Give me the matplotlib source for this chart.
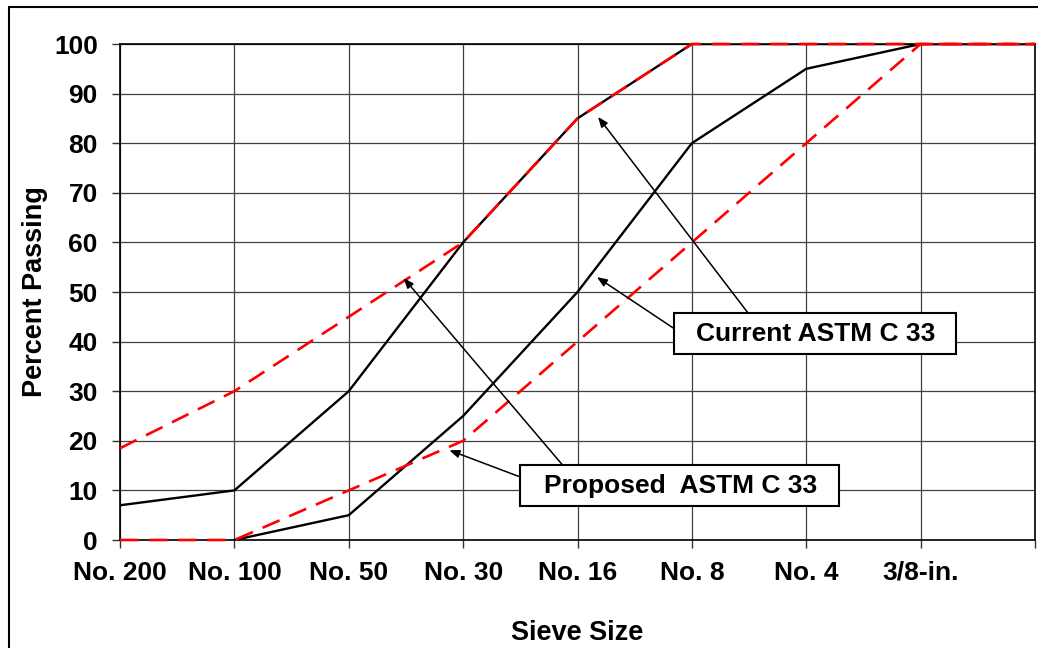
import matplotlib
matplotlib.use("Agg")
import matplotlib.pyplot as plt
from matplotlib.patches import Rectangle

plt.rcParams['font.family'] = ['Liberation Sans', 'DejaVu Sans']
plt.rcParams['font.weight'] = 'bold'

# Sieve sizes (one extra grid column past 3/8-in.)
sieves = ["No. 200", "No. 100", "No. 50", "No. 30", "No. 16", "No. 8", "No. 4", "3/8-in.", ""]
pos = list(range(len(sieves)))

# Current ASTM C 33 grading limits (percent passing)
current_upper = [7, 10, 30, 60, 85, 100, 100, 100, 100]
current_lower = [0, 0, 5, 25, 50, 80, 95, 100, 100]

# Proposed ASTM C 33 grading limits (percent passing)
proposed_upper = [18.5, 30, 45, 60, 85, 100, 100, 100, 100]
proposed_lower = [0, 0, 10, 20, 40, 60, 80, 100, 100]

fig = plt.figure(figsize=(10.38, 6.48), dpi=100)
ax = fig.add_axes([120 / 1038, 108 / 648, 915 / 1038, 496 / 648])

ax.set_xlim(0, 8)
ax.set_ylim(0, 100)
ax.set_xticks(pos)
ax.set_xticklabels(sieves)
ax.set_yticks(range(0, 101, 10))
ax.grid(True, color='#404040', linewidth=0.9)
ax.set_axisbelow(True)

for s in ax.spines.values():
    s.set_linewidth(1.2)
    s.set_color('black')

ax.tick_params(axis='both', labelsize=19, length=6, width=1.0, color='#333333')
ax.tick_params(axis='x', pad=9)
ax.tick_params(axis='y', pad=10)
for lbl in ax.get_xticklabels() + ax.get_yticklabels():
    lbl.set_fontweight('bold')

# Current limits: solid black
ax.plot(pos[1:], current_lower[1:], color='black', lw=1.7, zorder=3)
ax.plot(pos, current_upper, color='black', lw=1.7, zorder=3)

# Proposed limits: dashed red
for series in (proposed_upper, proposed_lower):
    ax.plot(pos, series, color='#ff0000', lw=1.9, dashes=(7, 4), zorder=4, clip_on=False)

ax.set_xlabel("Sieve Size", fontsize=19.5, fontweight='bold', labelpad=25)
ax.set_ylabel("Percent Passing", fontsize=19.5, fontweight='bold', labelpad=4.5)

arrow = dict(arrowstyle='-|>,head_length=0.6,head_width=0.24', color='black',
             lw=1.1, shrinkA=0, shrinkB=0)

# Callout boxes
ax.add_patch(Rectangle((4.844, 37.5), 2.465, 8.27, fc='white', ec='black',
                       lw=1.5, zorder=6))
ax.text(6.085, 41.6, "Current ASTM C 33", ha='center', va='center', fontsize=19,
        fontweight='bold', zorder=7)
ax.add_patch(Rectangle((3.497, 6.85), 2.789, 8.27, fc='white', ec='black',
                       lw=1.5, zorder=6))
ax.text(4.90, 10.9, "Proposed  ASTM C 33", ha='center', va='center', fontsize=19,
        fontweight='bold', zorder=7)

# Leader arrows
ax.annotate("", xy=(4.18, 85.3), xytext=(5.49, 45.8), arrowprops=arrow, zorder=5)
ax.annotate("", xy=(4.17, 53.0), xytext=(4.84, 42.7), arrowprops=arrow, zorder=5)
ax.annotate("", xy=(2.48, 52.8), xytext=(3.87, 15.1), arrowprops=arrow, zorder=5)
ax.annotate("", xy=(2.88, 18.1), xytext=(3.50, 12.7), arrowprops=arrow, zorder=5)

# Outer frame
fig.patches.append(Rectangle((9 / 1038, -0.05), 1.2, (648 - 7) / 648 + 0.05,
                             transform=fig.transFigure, fill=False, ec='black',
                             lw=1.5, zorder=0))

fig.savefig("out.png", dpi=100)
